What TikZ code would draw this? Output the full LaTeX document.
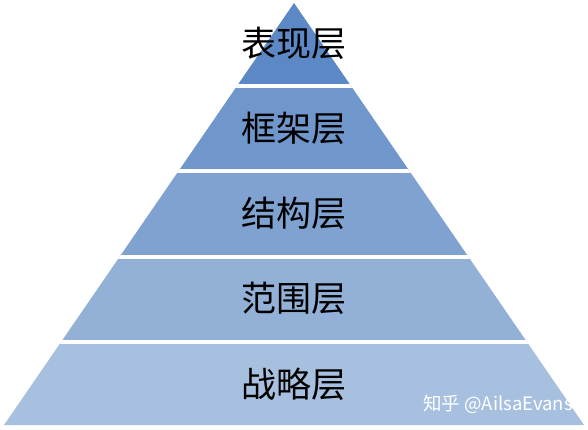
\documentclass[tikz,border=0pt]{standalone}
\usepackage{fontspec}
\usepackage{xcolor}
\usepackage{tikz}
\usetikzlibrary{positioning,calc}
\newfontfamily\cjk{Noto Sans CJK SC}

\definecolor{layerA}{HTML}{5D88C6}
\definecolor{layerB}{HTML}{7097CC}
\definecolor{layerC}{HTML}{7FA2D1}
\definecolor{layerD}{HTML}{93B0D7}
\definecolor{layerE}{HTML}{A8C0DF}

\tikzset{
  layertext/.style={font=\cjk\fontsize{35}{35}\selectfont, text=black, inner sep=0pt},
  gap/.style={white, line width=4pt},
  markstyle/.style={font=\cjk\fontsize{18.5}{18.5}\selectfont, text=white, inner sep=0pt, anchor=east}
}

\begin{document}
\begin{tikzpicture}[x=1pt,y=-1pt]
        \useasboundingbox (0,0) rectangle (588,429);

        % Pyramid outline
        \coordinate (apex) at (294,3);
        \coordinate (baseL) at (4,425);
        \coordinate (baseR) at (584,425);

        \begin{scope}
            \clip (apex) -- (baseR) -- (baseL) -- cycle;
            % Layers, top to bottom
            \fill[layerA] (0,0) rectangle (588,86);
            \fill[layerB] (0,86) rectangle (588,171);
            \fill[layerC] (0,171) rectangle (588,257);
            \fill[layerD] (0,257) rectangle (588,342);
            \fill[layerE] (0,342) rectangle (588,429);
            % White separators
            \draw[gap] (0,86) -- (588,86);
            \draw[gap] (0,171) -- (588,171);
            \draw[gap] (0,257) -- (588,257);
            \draw[gap] (0,342) -- (588,342);
        \end{scope}

        % Layer labels
        \node[layertext] (surface) at (294,43) {表现层};
        \node[layertext] (skeleton) at (294,128) {框架层};
        \node[layertext] (structure) at (294,213) {结构层};
        \node[layertext] (scope) at (294,298) {范围层};
        \node[layertext] (strategy) at (294,384) {战略层};

        % Watermark
        \node[markstyle] (mark) at (573,404) {知乎 @AilsaEvans};
    \end{tikzpicture}
\end{document}
